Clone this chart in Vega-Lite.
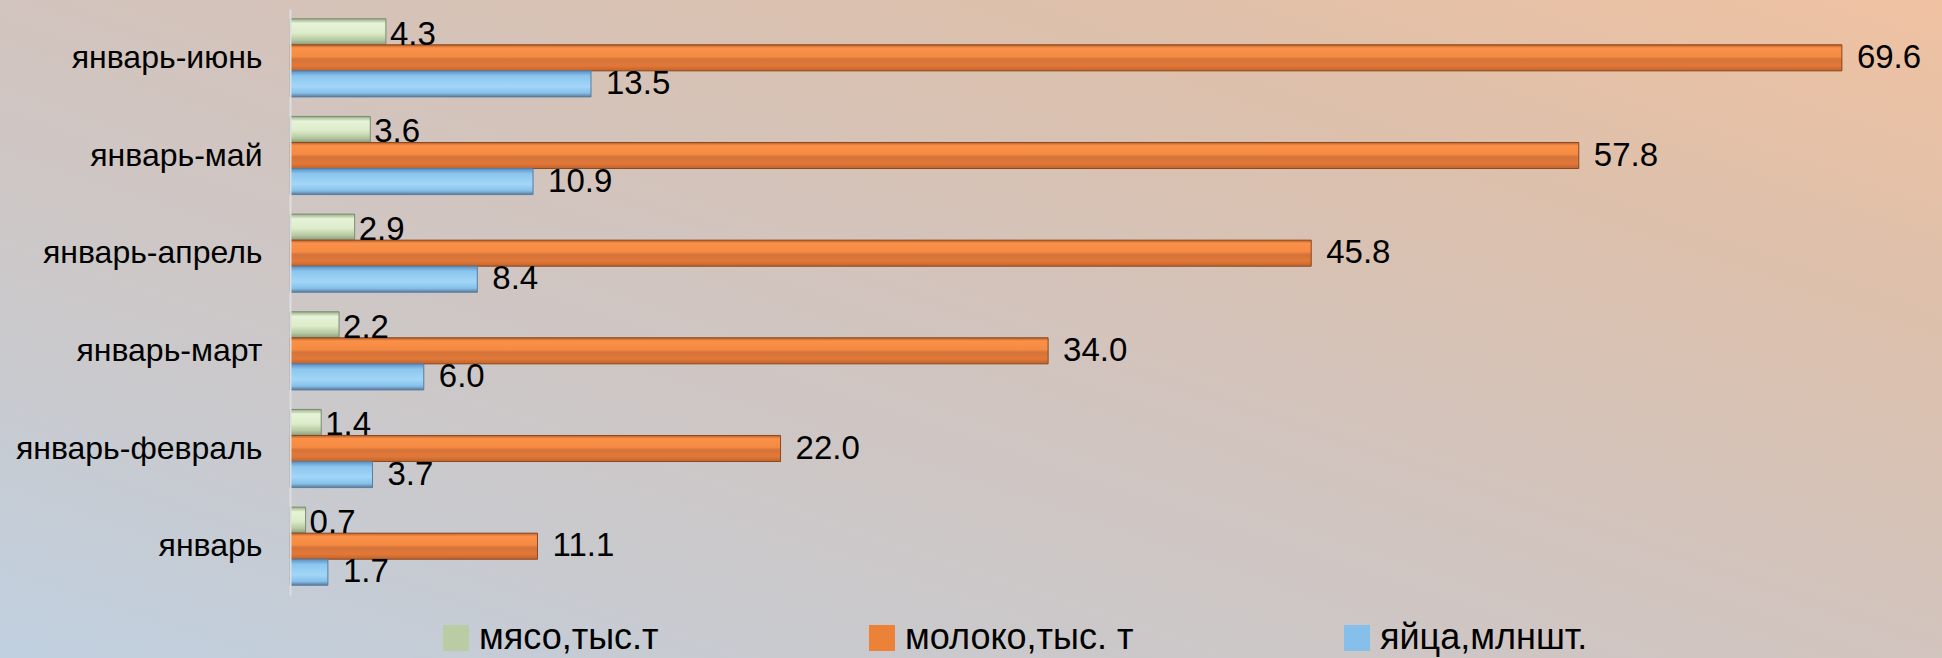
{
  "$schema": "https://vega.github.io/schema/vega-lite/v6.json",
  "width": 1942,
  "height": 658,
  "autosize": {"type": "none"},
  "padding": 0,
  "background": "#d0c6c2",
  "config": {"view": {"stroke": null}, "font": "Liberation Sans"},
  "datasets": {
    "d": [
      {"period": "январь-июнь", "series": "мясо,тыс.т", "value": 4.3},
      {"period": "январь-июнь", "series": "молоко,тыс. т", "value": 69.6},
      {"period": "январь-июнь", "series": "яйца,млншт.", "value": 13.5},
      {"period": "январь-май", "series": "мясо,тыс.т", "value": 3.6},
      {"period": "январь-май", "series": "молоко,тыс. т", "value": 57.8},
      {"period": "январь-май", "series": "яйца,млншт.", "value": 10.9},
      {"period": "январь-апрель", "series": "мясо,тыс.т", "value": 2.9},
      {"period": "январь-апрель", "series": "молоко,тыс. т", "value": 45.8},
      {"period": "январь-апрель", "series": "яйца,млншт.", "value": 8.4},
      {"period": "январь-март", "series": "мясо,тыс.т", "value": 2.2},
      {"period": "январь-март", "series": "молоко,тыс. т", "value": 34.0},
      {"period": "январь-март", "series": "яйца,млншт.", "value": 6.0},
      {"period": "январь-февраль", "series": "мясо,тыс.т", "value": 1.4},
      {"period": "январь-февраль", "series": "молоко,тыс. т", "value": 22.0},
      {"period": "январь-февраль", "series": "яйца,млншт.", "value": 3.7},
      {"period": "январь", "series": "мясо,тыс.т", "value": 0.7},
      {"period": "январь", "series": "молоко,тыс. т", "value": 11.1},
      {"period": "январь", "series": "яйца,млншт.", "value": 1.7}
    ]
  },
  "layer": [
    {
      "data": {"values": [{}]},
      "mark": {
        "type": "rect",
        "fill": {
          "gradient": "linear", "x1": 0, "y1": 1, "x2": 1, "y2": 0,
          "stops": [
            {"offset": 0, "color": "#c0d0e0"},
            {"offset": 0.25, "color": "#cac9cc"},
            {"offset": 0.5, "color": "#d2c4be"},
            {"offset": 0.75, "color": "#dcc0ac"},
            {"offset": 1, "color": "#f0c2a2"}
          ]
        }
      },
      "encoding": {}
    },
    {
      "data": {"name": "d"},
      "encoding": {
        "y": {
          "field": "period", "type": "nominal",
          "scale": {
            "domain": ["январь-июнь", "январь-май", "январь-апрель", "январь-март", "январь-февраль", "январь"],
            "range": [9, 595], "paddingInner": 0.2, "paddingOuter": 0.1
          },
          "axis": {
            "title": null, "orient": "left", "offset": -290, "ticks": false, "zindex": 1,
            "labelFontSize": 32, "labelFont": "Liberation Sans", "labelColor": "#000000", "labelLimit": 400,
            "labelPadding": 28, "domainColor": "#dedede", "domainWidth": 2, "grid": false
          }
        },
        "yOffset": {
          "field": "series", "type": "nominal",
          "scale": {"domain": ["мясо,тыс.т", "молоко,тыс. т", "яйца,млншт."], "paddingInner": 0, "paddingOuter": 0}
        },
        "x": {
          "field": "value", "type": "quantitative",
          "scale": {"domain": [0, 74], "range": [290, 1940], "nice": false, "zero": true},
          "axis": null
        }
      },
      "layer": [
        {
          "mark": {"type": "bar"},
          "encoding": {
            "color": {
              "field": "series", "type": "nominal",
              "scale": {"domain": ["мясо,тыс.т", "молоко,тыс. т", "яйца,млншт."], "range": ["#b9cca4", "#ec8238", "#86c0ea"]},
              "legend": {
                "orient": "none", "legendX": 438, "legendY": 620, "direction": "horizontal", "zindex": 1,
                "title": null, "symbolType": "square", "symbolSize": 676, "symbolStrokeWidth": 0,
                "labelFontSize": 36, "labelFont": "Liberation Sans", "labelColor": "#000000",
                "labelOffset": 5, "columnPadding": 205, "labelLimit": 400, "padding": 0
              }
            }
          }
        },
        {
          "transform": [{"filter": "datum.series == 'мясо,тыс.т'"}],
          "mark": {
            "type": "bar", "stroke": "#7c8c70", "strokeWidth": 1,
            "fill": {
              "gradient": "linear", "x1": 0, "y1": 0, "x2": 0, "y2": 1,
              "stops": [
                {"offset": 0, "color": "#9aae88"},
                {"offset": 0.18, "color": "#e6f3d8"},
                {"offset": 0.55, "color": "#dcecc9"},
                {"offset": 0.82, "color": "#b5c8a0"},
                {"offset": 1, "color": "#8a9c7c"}
              ]
            }
          }
        },
        {
          "transform": [{"filter": "datum.series == 'молоко,тыс. т'"}],
          "mark": {
            "type": "bar", "stroke": "#8a4a22", "strokeWidth": 1,
            "fill": {
              "gradient": "linear", "x1": 0, "y1": 0, "x2": 0, "y2": 1,
              "stops": [
                {"offset": 0, "color": "#b85f2a"},
                {"offset": 0.12, "color": "#fb9148"},
                {"offset": 0.45, "color": "#f58a42"},
                {"offset": 0.55, "color": "#d4733a"},
                {"offset": 0.8, "color": "#e27838"},
                {"offset": 1, "color": "#c0642c"}
              ]
            }
          }
        },
        {
          "transform": [{"filter": "datum.series == 'яйца,млншт.'"}],
          "mark": {
            "type": "bar", "stroke": "#5a7da0", "strokeWidth": 1,
            "fill": {
              "gradient": "linear", "x1": 0, "y1": 0, "x2": 0, "y2": 1,
              "stops": [
                {"offset": 0, "color": "#5c8fc4"},
                {"offset": 0.2, "color": "#8cc6ee"},
                {"offset": 0.6, "color": "#a2d6f8"},
                {"offset": 0.85, "color": "#86c0ea"},
                {"offset": 1, "color": "#5a7a98"}
              ]
            }
          }
        },
        {
          "transform": [{"filter": "datum.series == 'мясо,тыс.т'"}],
          "mark": {"type": "text", "align": "left", "baseline": "middle", "dx": 4, "dy": 3, "fontSize": 33, "font": "Liberation Sans", "color": "#000000"},
          "encoding": {"text": {"field": "value", "type": "quantitative", "format": ".1f"}}
        },
        {
          "transform": [{"filter": "datum.series != 'мясо,тыс.т'"}],
          "mark": {"type": "text", "align": "left", "baseline": "middle", "dx": 15, "fontSize": 33, "font": "Liberation Sans", "color": "#000000"},
          "encoding": {"text": {"field": "value", "type": "quantitative", "format": ".1f"}}
        }
      ]
    }
  ]
}
